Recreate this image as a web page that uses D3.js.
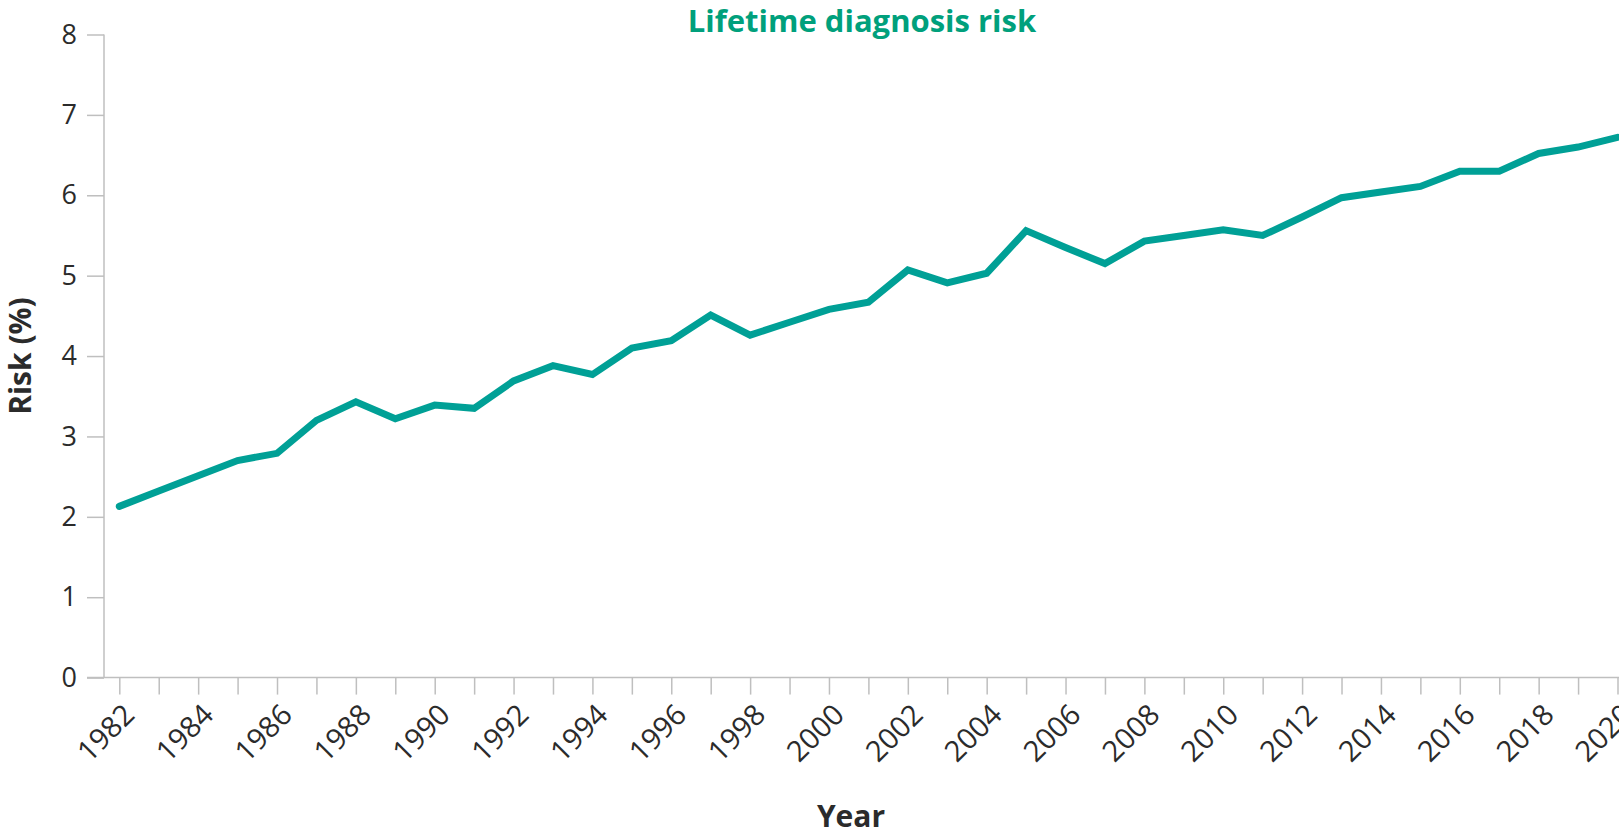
<!DOCTYPE html>
<html>
<head>
<meta charset="utf-8">
<script src="https://cdn.jsdelivr.net/npm/d3@7"></script>
<style>
  html, body { margin: 0; padding: 0; background: #fff; }
  svg { display: block; }
  text { font-family: "Open Sans", sans-serif; }
</style>
</head>
<body>
<script>
// ---- data ----
const years = [1982,1983,1984,1985,1986,1987,1988,1989,1990,1991,1992,1993,1994,1995,1996,1997,1998,1999,2000,2001,2002,2003,2004,2005,2006,2007,2008,2009,2010,2011,2012,2013,2014,2015,2016,2017,2018,2019,2020];
const risk = [2.13,2.32,2.51,2.70,2.79,3.20,3.43,3.22,3.39,3.35,3.69,3.88,3.77,4.10,4.19,4.51,4.26,4.42,4.58,4.67,5.07,4.91,5.03,5.56,5.35,5.15,5.43,5.50,5.57,5.50,5.73,5.97,6.04,6.11,6.30,6.30,6.52,6.60,6.72];
const yTicks = [0,1,2,3,4,5,6,7,8];
const xLabelYears = [1982,1984,1986,1988,1990,1992,1994,1996,1998,2000,2002,2004,2006,2008,2010,2012,2014,2016,2018,2020];
const titleText = "Lifetime diagnosis risk";
const yTitle = "Risk (%)";
const xTitle = "Year";

// ---- layout ----
const W = 1619, H = 832;
const axisGrey = "#bfbfbf";
const textCol = "#2b2b2b";
const lineCol = "#00a096";
const titleCol = "#00a07c";

const svg = d3.select("body").append("svg").attr("width", W).attr("height", H);

const x = d3.scaleLinear().domain([1982, 2020]).range([119.3, 1617.5]);
const y = d3.scaleLinear().domain([0, 8]).range([677.6, 34.5]);
const yAxisX = 104;

// y axis
const yAxis = svg.append("g").attr("transform", `translate(${yAxisX},0)`)
  .call(d3.axisLeft(y).tickValues(yTicks).tickSize(17).tickPadding(10).tickFormat(d3.format("d")));
yAxis.select(".domain").attr("d", `M0,${y(8)}V${y(0)}`);
yAxis.selectAll("line, .domain").attr("stroke", axisGrey).attr("stroke-width", 1.5);
yAxis.selectAll("text").attr("font-size", 27).attr("fill", textCol).attr("font-family", "Open Sans");

// x axis
const xAxis = svg.append("g").attr("transform", `translate(0,${y(0)})`)
  .call(d3.axisBottom(x).tickValues(years).tickSize(17).tickFormat(""));
xAxis.select(".domain").attr("d", `M87,0H${W}`);
xAxis.selectAll("line, .domain").attr("stroke", axisGrey).attr("stroke-width", 1.5);

// x tick labels
svg.append("g").selectAll("text").data(xLabelYears).join("text")
  .attr("transform", d => `translate(${x(d) + 17},${y(0) + 39}) rotate(-45)`)
  .attr("text-anchor", "end")
  .attr("font-size", 29)
  .attr("fill", textCol)
  .text(d => d);

// line
svg.append("path")
  .datum(years.map((d, i) => [d, risk[i]]))
  .attr("fill", "none")
  .attr("stroke", lineCol)
  .attr("stroke-width", 7)
  .attr("stroke-linejoin", "miter")
  .attr("stroke-linecap", "round")
  .attr("d", d3.line().x(d => x(d[0])).y(d => y(d[1])));

// titles
svg.append("text")
  .attr("x", 862).attr("y", 32)
  .attr("text-anchor", "middle")
  .attr("font-size", 31).attr("font-weight", 700)
  .attr("fill", titleCol)
  .text(titleText);

svg.append("text")
  .attr("transform", `translate(31,${(y(0) + y(8)) / 2}) rotate(-90)`)
  .attr("text-anchor", "middle")
  .attr("font-size", 30).attr("font-weight", 700)
  .attr("fill", textCol)
  .text(yTitle);

svg.append("text")
  .attr("x", 851).attr("y", 827)
  .attr("text-anchor", "middle")
  .attr("font-size", 30).attr("font-weight", 700)
  .attr("fill", textCol)
  .text(xTitle);
</script>
</body>
</html>
